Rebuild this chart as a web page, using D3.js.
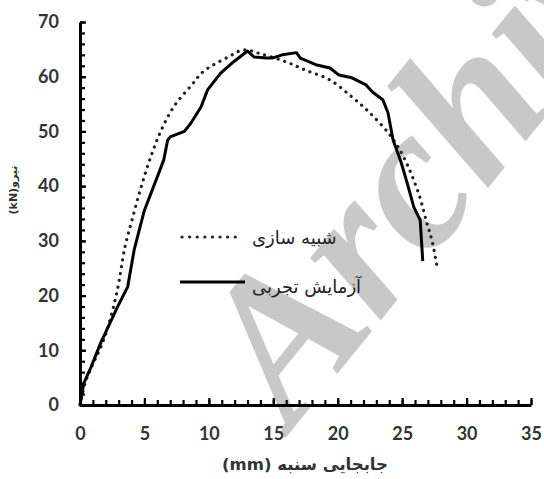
<!DOCTYPE html>
<html>
<head>
<meta charset="utf-8">
<script src="https://cdn.jsdelivr.net/npm/d3@7"></script>
<style>
  body { margin: 0; background: #fff; }
  svg { display: block; }
</style>
</head>
<body>
<div id="chart"></div>
<script>
// displacement (mm) / force (kN)
var expX = [0, 0.3, 0.85, 1.6, 2.9, 3.7, 4.2, 4.6, 5.0, 6.0, 6.5, 6.8, 7.0, 8.1, 8.6, 9.4, 9.9, 10.9, 11.9, 13.0, 13.5, 14.5, 14.9, 15.7, 16.8, 17.1, 18.3, 19.4, 20.1, 21.1, 22.2, 22.7, 23.5, 23.9, 24.3, 24.9, 25.4, 25.9, 26.4, 26.6]
var expY = [0, 4, 6.9, 11.3, 17.9, 21.6, 28.3, 32, 35.6, 41.7, 44.8, 48.4, 49, 50, 51.5, 54.5, 57.6, 60.6, 62.7, 64.7, 63.6, 63.4, 63.4, 64, 64.4, 63.4, 62.2, 61.6, 60.3, 59.8, 58.5, 57.2, 55.8, 53.4, 48.4, 44.5, 40.5, 36.2, 33.8, 26.3]

var simX = [0, 0.4, 1.0, 1.6, 2.2, 2.9, 3.5, 4.0, 4.7, 5.5, 6.3, 7.3, 8.6, 9.6, 11.5, 12.7, 14.0, 16.0, 17.5, 19.4, 21.1, 22.4, 24.0, 25.1, 26.3, 26.9, 27.3, 27.7]
var simY = [0, 4, 7.5, 10.5, 14.5, 21, 29, 33.5, 39.5, 45.4, 50.2, 54.6, 58.3, 61.0, 63.6, 64.9, 64.2, 62.7, 61.2, 59.4, 56.3, 53.6, 49.5, 45.4, 38.5, 33.4, 30.2, 25.4]

var xTicks = [0, 5, 10, 15, 20, 25, 30, 35]
var yTicks = [0, 10, 20, 30, 40, 50, 60, 70]
var legendNames = ['شبیه سازی', 'آزمایش تجربی']
var xTitle = 'جابجایی سنبه (mm)'
var yTitle = 'نیرو(kN)'

var width = 544, height = 479

var svg = d3.select('#chart').append('svg').attr('width', width).attr('height', height)

// watermark behind everything
svg.append('text')
  .attr('transform', 'translate(292,430) rotate(-51)')
  .attr('font-family', 'Liberation Serif')
  .attr('font-weight', 'bold')
  .attr('font-style', 'italic')
  .attr('font-size', 205)
  .attr('fill', '#c8c8c8')
  .text('Archive')

var x = d3.scaleLinear().domain([0, 35]).range([80, 531])
var y = d3.scaleLinear().domain([0, 70]).range([405, 22])

var labelFont = 'Lato, "Open Sans", sans-serif'

function styleAxis(g) {
  g.select('.domain').attr('stroke', '#000').attr('stroke-width', 3)
  g.selectAll('.tick line').attr('stroke', '#000').attr('stroke-width', 2.2)
  g.selectAll('.tick text').attr('font-family', labelFont).attr('font-weight', 'bold')
    .attr('font-size', 18).attr('fill', '#333')
}

// y axis: minor ticks every 2, labels every 10, ticks pointing inward
svg.append('g').attr('transform', 'translate(80,0)')
  .call(d3.axisLeft(y).tickValues(d3.range(0, 71, 2)).tickSizeInner(-5).tickSizeOuter(0).tickFormat(''))
  .call(styleAxis)
svg.append('g').attr('transform', 'translate(80,0)')
  .call(d3.axisLeft(y).tickValues(yTicks).tickSizeInner(-6).tickSizeOuter(0).tickPadding(21))
  .call(styleAxis)
  .call(g => g.select('.domain').remove())

// x axis: minor ticks every 1, labels every 5
svg.append('g').attr('transform', 'translate(0,405)')
  .call(d3.axisBottom(x).tickValues(d3.range(0, 36, 1)).tickSizeInner(-5).tickSizeOuter(0).tickFormat(''))
  .call(styleAxis)
svg.append('g').attr('transform', 'translate(0,405)')
  .call(d3.axisBottom(x).tickValues(xTicks).tickSizeInner(-7).tickSizeOuter(0).tickPadding(22))
  .call(styleAxis)
  .call(g => g.select('.domain').remove())

// axis titles
svg.append('text')
  .attr('x', 305).attr('y', 470)
  .attr('text-anchor', 'middle').attr('direction', 'rtl')
  .attr('font-family', '"DejaVu Sans", sans-serif').attr('font-weight', 'bold').attr('font-size', 16.5)
  .attr('fill', '#333')
  .text(xTitle)

svg.append('text')
  .attr('transform', 'translate(17,190) rotate(-90)')
  .attr('text-anchor', 'middle').attr('direction', 'rtl')
  .attr('font-family', '"DejaVu Sans", sans-serif').attr('font-weight', 'bold').attr('font-size', 11)
  .attr('fill', '#333')
  .text(yTitle)

// curves
var simData = simX.map(function(v, i) { return [v, simY[i]] })
var expData = expX.map(function(v, i) { return [v, expY[i]] })

var simLine = d3.line().x(d => x(d[0])).y(d => y(d[1])).curve(d3.curveCatmullRom)
var expLine = d3.line().x(d => x(d[0])).y(d => y(d[1])).curve(d3.curveLinear)

svg.append('path').datum(simData).attr('d', simLine)
  .attr('fill', 'none').attr('stroke', '#222').attr('stroke-width', 3.2)
  .attr('stroke-linecap', 'round').attr('stroke-dasharray', '0.1,6.8')

svg.append('path').datum(expData).attr('d', expLine)
  .attr('fill', 'none').attr('stroke', '#000').attr('stroke-width', 3)
  .attr('stroke-linejoin', 'round')

// legend
var legend = svg.append('g')
legend.append('line').attr('x1', 182).attr('x2', 242).attr('y1', 237).attr('y2', 237)
  .attr('stroke', '#222').attr('stroke-width', 3.2)
  .attr('stroke-linecap', 'round').attr('stroke-dasharray', '0.1,7.5')
legend.append('text').attr('x', 252).attr('y', 244)
  .attr('text-anchor', 'end').attr('direction', 'rtl')
  .attr('font-family', '"DejaVu Sans", sans-serif').attr('font-size', 18)
  .attr('fill', '#222')
  .text(legendNames[0])

legend.append('line').attr('x1', 180).attr('x2', 245).attr('y1', 282).attr('y2', 282)
  .attr('stroke', '#000').attr('stroke-width', 3)
legend.append('text').attr('x', 252).attr('y', 293)
  .attr('text-anchor', 'end').attr('direction', 'rtl')
  .attr('font-family', '"DejaVu Sans", sans-serif').attr('font-size', 18)
  .attr('fill', '#222')
  .text(legendNames[1])
</script>
</body>
</html>
